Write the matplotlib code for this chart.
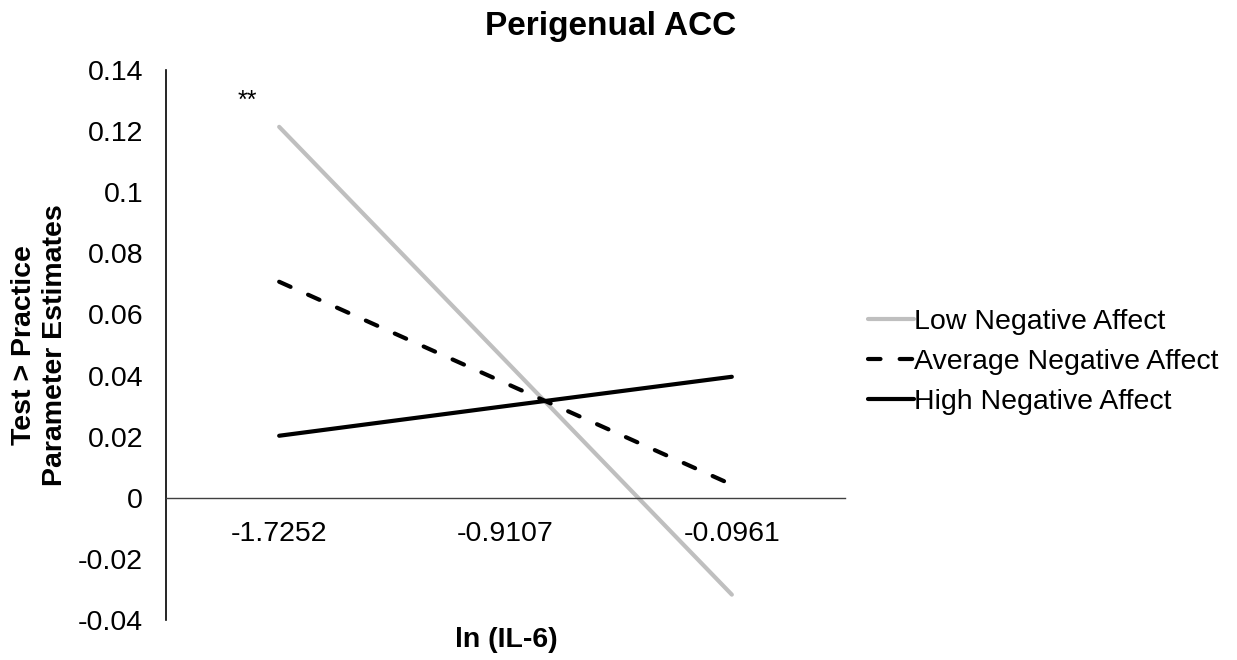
import matplotlib.pyplot as plt

plt.rcParams['font.family'] = ['Liberation Sans', 'DejaVu Sans']

# x categories: ln(IL-6)
categories = ["-1.7252", "-0.9107", "-0.0961"]

# simple slopes at three levels of negative affect
low_na = [0.1214, 0.0449, -0.0317]
avg_na = [0.0707, 0.0375, 0.0043]
high_na = [0.0203, 0.0300, 0.0396]

yticks = [-0.04, -0.02, 0, 0.02, 0.04, 0.06, 0.08, 0.1, 0.12, 0.14]
ytick_labels = ["-0.04", "-0.02", "0", "0.02", "0.04", "0.06", "0.08", "0.1", "0.12", "0.14"]

fig = plt.figure(figsize=(12.37, 6.6), dpi=100)
ax = fig.add_axes([166 / 1237, 1 - 620 / 660, (845 - 166) / 1237, 550 / 660])

x = list(range(len(categories)))
ax.plot(x, low_na, color="#BFBFBF", lw=3.0, solid_capstyle="round",
        label="Low Negative Affect")
ax.plot(x, avg_na, color="black", lw=3.0, dashes=(3.0, 4.6),
        dash_capstyle="round", label="Average Negative Affect")
ax.plot(x, high_na, color="black", lw=3.0, solid_capstyle="round",
        label="High Negative Affect")

ax.text(-0.14, 0.130, "**", fontsize=18, ha="center", va="center")

ax.set_xlim(-0.5, 2.5)
ax.set_ylim(-0.04, 0.14)
ax.set_yticks(yticks)
ax.set_yticklabels(ytick_labels)
ax.set_xticks(x)
ax.set_xticklabels(categories)

# excel style axes
ax.spines["top"].set_visible(False)
ax.spines["right"].set_visible(False)
ax.spines["bottom"].set_position(("data", 0))
ax.spines["bottom"].set_color("#404040")
ax.spines["bottom"].set_linewidth(1.0)
ax.spines["left"].set_linewidth(1.2)
ax.tick_params(axis="y", length=0, pad=16.5, labelsize=20.5)
ax.tick_params(axis="x", length=0, pad=17, labelsize=20.5)

fig.text(611 / 1237, 1 - 27 / 660, "Perigenual ACC", fontsize=24, fontweight="bold",
         ha="center", va="center")
fig.text(506 / 1237, 1 - 640 / 660, "ln (IL-6)", fontsize=20.5, fontweight="bold",
         ha="center", va="center")
fig.text(40 / 1237, 1 - 345 / 660, "Test > Practice\nParameter Estimates",
         fontsize=20.5, fontweight="bold", rotation=90, ha="center", va="center",
         linespacing=1.25)

fig.legend(loc="center left", bbox_to_anchor=(868 / 1237, 1 - 362 / 660),
           frameon=False, fontsize=20.5, handlelength=1.6, handletextpad=0.0,
           labelspacing=0.5, borderpad=0, borderaxespad=0)

fig.savefig("out.png", dpi=100)
